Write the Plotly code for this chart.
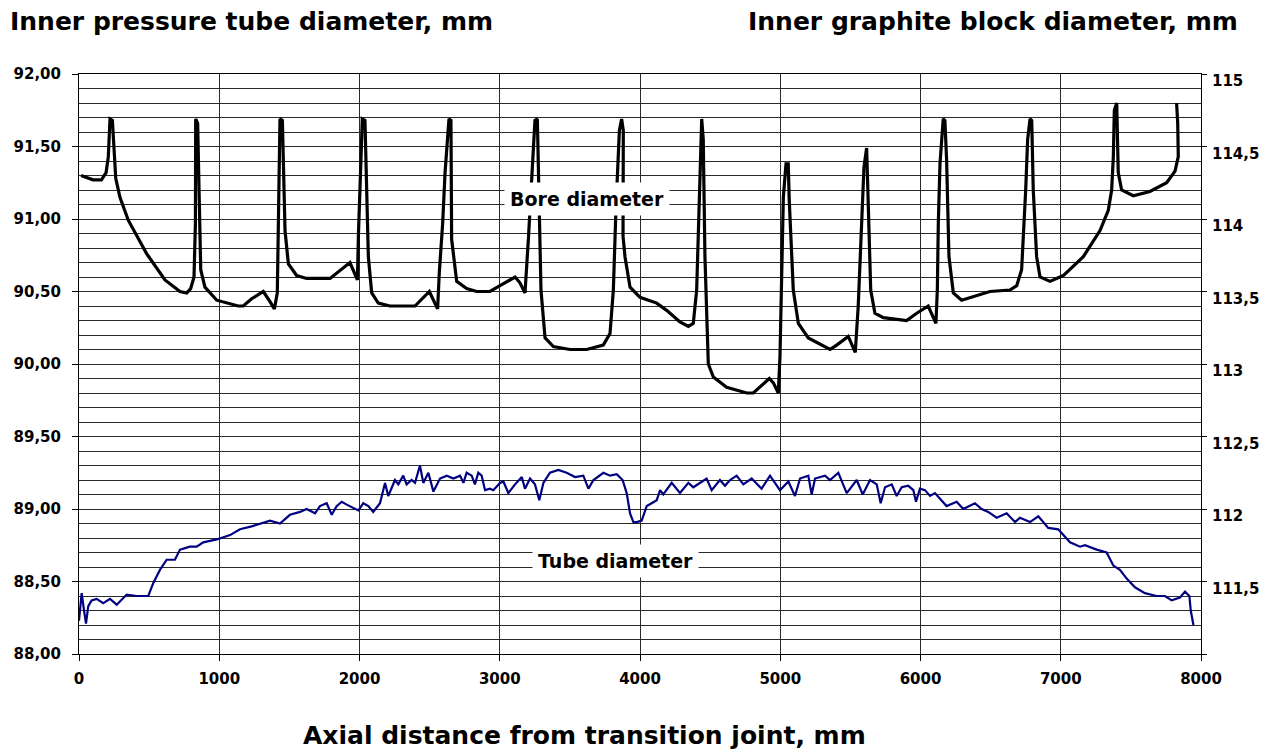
import plotly.graph_objects as go

# Bore diameter (right axis, inner graphite block diameter, mm)
bore_x = [15, 100, 160, 193, 209, 221, 238, 250, 262, 292, 352, 483, 613, 720, 768, 796, 820, 830,
          832, 846, 858, 868, 898, 982, 1136, 1171, 1231, 1314, 1362, 1393, 1414, 1421, 1433, 1450,
          1457, 1469, 1493, 1552, 1623, 1790, 1932, 1961, 1985, 1992, 2004, 2020, 2039, 2051, 2063,
          2087, 2134, 2217, 2396, 2498, 2527, 2557, 2569, 2593, 2610, 2629, 2638, 2652, 2657, 2693,
          2764, 2835, 2930, 3002, 3109, 3144, 3180, 3204, 3228, 3251, 3268, 3280, 3294, 3323, 3382,
          3501, 3620, 3738, 3786, 3810, 3829, 3853, 3869, 3881, 3879, 3893, 3929, 4000, 4119, 4190,
          4285, 4345, 4380, 4404, 4423, 4440, 4451, 4463, 4487, 4523, 4618, 4761, 4808, 4922, 4951,
          4986, 4998, 5010, 5022, 5041, 5057, 5064, 5093, 5129, 5200, 5355, 5402, 5485, 5535, 5556,
          5581, 5597, 5616, 5628, 5645, 5675, 5735, 5901, 5973, 6055, 6086, 6110, 6120, 6127, 6139,
          6151, 6162, 6174, 6186, 6203, 6234, 6293, 6495, 6638, 6686, 6721, 6733, 6750, 6764, 6781,
          6793, 6804, 6828, 6852, 6923, 7018, 7161, 7280, 7339, 7363, 7375, 7382, 7399, 7403, 7410,
          7434, 7517, 7636, 7755, 7815, 7838, 7834, 7826]
bore_y = [114.30, 114.27, 114.27, 114.32, 114.43, 114.69, 114.68, 114.43, 114.28, 114.15, 113.99,
          113.76, 113.58, 113.50, 113.49, 113.52, 113.60, 113.97, 114.69, 114.66, 113.97, 113.65,
          113.53, 113.44, 113.40, 113.40, 113.45, 113.50, 113.43, 113.38, 113.49, 113.97, 114.69,
          114.68, 114.38, 113.92, 113.69, 113.61, 113.59, 113.59, 113.70, 113.64, 113.58, 113.88,
          114.20, 114.69, 114.68, 114.20, 113.74, 113.49, 113.42, 113.40, 113.40, 113.50, 113.44,
          113.38, 113.63, 113.97, 114.32, 114.55, 114.69, 114.68, 113.86, 113.57, 113.52, 113.50,
          113.50, 113.54, 113.60, 113.56, 113.49, 113.86, 114.29, 114.68, 114.69, 114.20, 113.51,
          113.18, 113.12, 113.10, 113.10, 113.13, 113.21, 113.51, 114.08, 114.61, 114.69, 114.61,
          113.88, 113.74, 113.53, 113.46, 113.42, 113.37, 113.29, 113.26, 113.28, 113.51, 114.20,
          114.69, 114.55, 113.74, 113.00, 112.91, 112.84, 112.80, 112.80, 112.90, 112.87, 112.80,
          113.05, 113.74, 114.15, 114.38, 114.38, 114.13, 113.51, 113.28, 113.18, 113.10, 113.13,
          113.19, 113.08, 113.40, 113.97, 114.36, 114.49, 114.04, 113.51, 113.35, 113.32, 113.30,
          113.35, 113.40, 113.33, 113.28, 113.51, 113.97, 114.38, 114.55, 114.69, 114.68, 114.41,
          113.74, 113.49, 113.44, 113.50, 113.51, 113.54, 113.65, 113.86, 114.20, 114.55, 114.69,
          114.68, 114.20, 113.74, 113.60, 113.57, 113.61, 113.74, 113.92, 114.06, 114.20, 114.43,
          114.75, 114.80, 114.66, 114.32, 114.20, 114.16, 114.19, 114.25, 114.33, 114.43, 114.66,
          114.80]

# Tube diameter (left axis, inner pressure tube diameter, mm)
tube_x = [0, 19, 36, 50, 66, 90, 126, 173, 221, 269, 340, 411, 494, 530, 577, 625, 684, 720, 791,
          839, 886, 982, 1077, 1148, 1231, 1291, 1362, 1433, 1504, 1576, 1623, 1683, 1718, 1766,
          1802, 1837, 1873, 1909, 1992, 2027, 2063, 2098, 2146, 2182, 2205, 2253, 2277, 2312, 2336,
          2372, 2396, 2431, 2455, 2491, 2527, 2574, 2622, 2669, 2717, 2741, 2764, 2800, 2823, 2847,
          2871, 2895, 2930, 2954, 3002, 3026, 3061, 3109, 3157, 3180, 3216, 3251, 3282, 3311, 3358,
          3418, 3477, 3537, 3596, 3632, 3668, 3739, 3786, 3834, 3876, 3905, 3929, 3953, 3977, 4012,
          4048, 4083, 4119, 4143, 4166, 4226, 4285, 4345, 4380, 4475, 4511, 4570, 4606, 4642, 4689,
          4737, 4796, 4867, 4927, 4998, 5058, 5105, 5141, 5200, 5224, 5248, 5319, 5355, 5414, 5474,
          5545, 5588, 5640, 5688, 5716, 5747, 5795, 5830, 5866, 5913, 5949, 5968, 5996, 6032, 6068,
          6103, 6139, 6186, 6258, 6305, 6388, 6436, 6483, 6543, 6614, 6674, 6709, 6781, 6840, 6876,
          6911, 6982, 7066, 7137, 7173, 7256, 7327, 7375, 7422, 7470, 7529, 7600, 7683, 7743, 7791,
          7850, 7886, 7917, 7927, 7946]
tube_y = [88.23, 88.42, 88.30, 88.21, 88.33, 88.37, 88.38, 88.35, 88.38, 88.34, 88.41, 88.40, 88.40,
          88.49, 88.58, 88.65, 88.65, 88.72, 88.74, 88.74, 88.77, 88.79, 88.82, 88.86, 88.88, 88.90,
          88.92, 88.90, 88.96, 88.98, 89.00, 88.97, 89.02, 89.04, 88.96, 89.02, 89.05, 89.03, 88.99,
          89.04, 89.02, 88.98, 89.04, 89.18, 89.09, 89.20, 89.17, 89.23, 89.17, 89.20, 89.18, 89.30,
          89.18, 89.25, 89.12, 89.21, 89.23, 89.21, 89.23, 89.18, 89.25, 89.23, 89.17, 89.25, 89.23,
          89.13, 89.14, 89.13, 89.18, 89.19, 89.11, 89.17, 89.22, 89.14, 89.21, 89.17, 89.06, 89.18,
          89.25, 89.27, 89.25, 89.22, 89.23, 89.14, 89.20, 89.25, 89.23, 89.24, 89.20, 89.11, 88.97,
          88.91, 88.91, 88.92, 89.02, 89.04, 89.06, 89.13, 89.10, 89.18, 89.11, 89.18, 89.15, 89.21,
          89.13, 89.20, 89.16, 89.20, 89.23, 89.17, 89.21, 89.14, 89.23, 89.13, 89.19, 89.09, 89.21,
          89.23, 89.10, 89.21, 89.23, 89.20, 89.25, 89.11, 89.20, 89.10, 89.20, 89.17, 89.04, 89.15,
          89.17, 89.09, 89.15, 89.16, 89.13, 89.05, 89.14, 89.13, 89.09, 89.11, 89.07, 89.02, 89.05,
          89.00, 89.04, 89.00, 88.98, 88.94, 88.97, 88.91, 88.94, 88.91, 88.95, 88.91, 88.87, 88.86,
          88.77, 88.74, 88.75, 88.72, 88.70, 88.61, 88.58, 88.52, 88.46, 88.42, 88.40, 88.40, 88.37,
          88.39, 88.43, 88.40, 88.30, 88.20]

x_ticks = [0, 1000, 2000, 3000, 4000, 5000, 6000, 7000, 8000]
x_labels = ["0", "1000", "2000", "3000", "4000", "5000", "6000", "7000", "8000"]
left_ticks = [88.0, 88.5, 89.0, 89.5, 90.0, 90.5, 91.0, 91.5, 92.0]
left_labels = ["88,00", "88,50", "89,00", "89,50", "90,00", "90,50", "91,00", "91,50", "92,00"]
right_ticks = [111.0, 111.5, 112.0, 112.5, 113.0, 113.5, 114.0, 114.5, 115.0]
right_labels = ["", "111,5", "112", "112,5", "113", "113,5", "114", "114,5", "115"]

FONT = "DejaVu Sans"
GRID = "#2a2a2a"

fig = go.Figure()
fig.add_trace(go.Scatter(x=tube_x, y=tube_y, mode="lines", name="Tube diameter",
                         line=dict(color="#000080", width=2.2), yaxis="y"))
fig.add_trace(go.Scatter(x=bore_x, y=bore_y, mode="lines", name="Bore diameter",
                         line=dict(color="#000000", width=3.2), yaxis="y2"))

tickfont = dict(family=FONT, size=15, color="#000", weight="bold")

fig.update_layout(
    width=1270, height=752,
    margin=dict(l=79, r=69, t=74, b=98),
    paper_bgcolor="white", plot_bgcolor="white",
    showlegend=False,
    xaxis=dict(range=[0, 8000], tickmode="array", tickvals=x_ticks, ticktext=x_labels,
               showgrid=True, gridcolor=GRID, gridwidth=1, zeroline=False,
               showline=True, linecolor="#000", linewidth=1, mirror=True,
               ticks="outside", ticklen=6, tickcolor="#000", tickfont=tickfont,
               ticklabelstandoff=5),
    yaxis=dict(range=[88, 92], tickmode="array", tickvals=left_ticks, ticktext=left_labels,
               showgrid=True, gridcolor=GRID, gridwidth=1, zeroline=False,
               minor=dict(tickmode="linear", tick0=88, dtick=0.1, showgrid=True,
                          gridcolor=GRID, gridwidth=1, ticks=""),
               showline=True, linecolor="#000", linewidth=1,
               ticks="outside", ticklen=6, tickcolor="#000", tickfont=tickfont,
               ticklabelstandoff=8),
    yaxis2=dict(range=[111, 115], overlaying="y", side="right", tickmode="array",
                tickvals=right_ticks, ticktext=right_labels, showgrid=False, zeroline=False,
                showline=True, linecolor="#000", linewidth=1,
                ticks="outside", ticklen=5, tickcolor="#000", tickfont=tickfont,
                ticklabelstandoff=2, ticklabelshift=7),
)

def lab(text, x, y, size, xanchor="center", yanchor="middle", xref="paper", yref="paper", bg=None):
    d = dict(text="<b>%s</b>" % text, x=x, y=y, xref=xref, yref=yref, showarrow=False,
             xanchor=xanchor, yanchor=yanchor,
             font=dict(family=FONT, size=size, color="#000"))
    if bg:
        d.update(bgcolor=bg, borderpad=5)
    fig.add_annotation(**d)

lab("Inner pressure tube diameter, mm", -0.0633, 1.0897, 25, xanchor="left")
lab("Inner graphite block diameter, mm", 1.0348, 1.0897, 25, xanchor="right")
lab("Axial distance from transition joint, mm", 0.4505, -0.1397, 25)
lab("Bore diameter", 3622, 91.14, 19, xref="x", yref="y", bg="white")
lab("Tube diameter", 3822, 88.64, 19, xref="x", yref="y", bg="white")

fig.write_html("out.html")
